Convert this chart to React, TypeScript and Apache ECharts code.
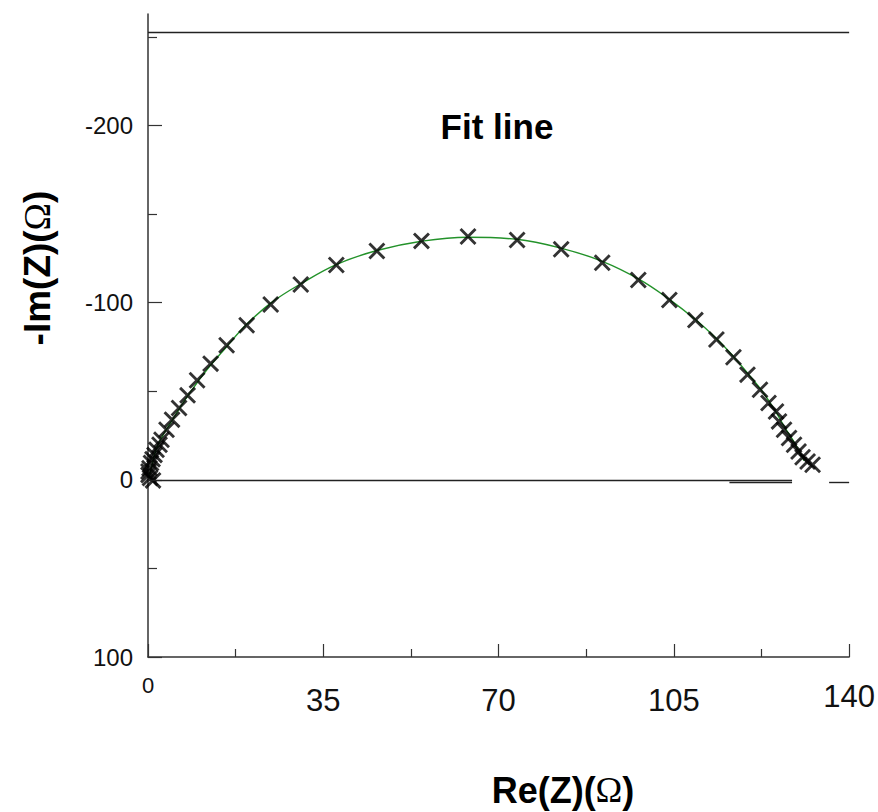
import React, { useEffect, useRef } from "react";
import * as echarts from "echarts";

// Measured impedance points (Re(Z), -Im(Z)) in ohms
const measRe = [1.0, 0.4, 0.1, 0.1, 0.3, 0.6, 0.9, 1.3, 1.7, 2.3, 2.7, 3.7, 4.8, 6.2, 7.9, 9.8, 12.5, 15.7, 19.7, 24.5, 30.5, 37.6, 45.7, 54.6, 63.9, 73.7, 82.5, 90.7, 97.9, 104.1, 109.3, 113.5, 116.9, 119.7, 122.2, 123.9, 125.4, 126.0, 127.0, 128.0, 129.0, 129.9, 130.7, 131.7, 132.7];
const measIm = [-0.3, 1.1, 2.8, 4.7, 6.6, 9.5, 11.7, 14.1, 17.0, 19.8, 22.6, 28.3, 34.0, 40.6, 47.7, 56.2, 65.6, 76.0, 87.3, 99.0, 110.3, 121.3, 129.2, 134.9, 137.4, 135.4, 130.2, 122.6, 112.8, 101.5, 90.2, 79.2, 69.2, 59.4, 50.9, 43.4, 38.6, 33.0, 28.3, 23.6, 19.8, 16.0, 12.8, 10.4, 8.5];

// Fit line
const fitRe = [0.2, 0.8, 1.6, 2.8, 4.4, 6.4, 8.8, 11.8, 15.4, 19.7, 24.7, 30.7, 37.7, 45.9, 54.6, 63.8, 73.6, 82.6, 90.7, 98.1, 104.1, 109.3, 113.5, 117.1, 120.1, 122.7, 125.1, 127.2, 129.2, 131.0];
const fitIm = [1.1, 8.5, 17.0, 24.3, 31.7, 40.8, 50.9, 62.3, 74.2, 87.8, 100.2, 111.0, 121.7, 129.6, 134.7, 137.0, 135.8, 130.7, 123.4, 113.2, 101.9, 90.5, 79.8, 69.0, 58.9, 49.8, 39.6, 29.4, 20.4, 10.8];

const xTicks = [0, 35, 70, 105, 140];
const yMajorTicks = [-100, 0, 100, 200];
const yMinorTicks = [-50, 50, 150, 250];
const frameTop = 252.6;

const CROSS = "path://M0,2.4L2.4,0L10,7.6L17.6,0L20,2.4L12.4,10L20,17.6L17.6,20L10,12.4L2.4,20L0,17.6L7.6,10Z";

export default function App() {
  const ref = useRef<HTMLDivElement>(null);
  useEffect(() => {
    const chart = echarts.init(ref.current!, null, { renderer: "svg" });
    const font = "Liberation Sans";
    const axisColor = "#333";
    const lineStyle = { color: axisColor, width: 1.5 };
    chart.setOption({
      animation: false,
      backgroundColor: "#fff",
      textStyle: { fontFamily: font },
      grid: { left: 148, right: 28, top: 14, bottom: 155, containLabel: false },
      xAxis: {
        type: "value",
        min: xTicks[0],
        max: xTicks[xTicks.length - 1],
        interval: 35,
        axisLine: { show: true, onZero: false, lineStyle },
        axisTick: { show: true, inside: true, length: 13, lineStyle: { color: axisColor, width: 1.2 } },
        minorTick: { show: true, splitNumber: 2, length: 8, lineStyle: { color: axisColor, width: 1.2 } },
        splitLine: { show: false },
        minorSplitLine: { show: false },
        axisLabel: {
          margin: 17,
          color: "#111",
          fontFamily: font,
          formatter: (v: number) => (v === 0 ? `{z|0}` : v === 140 ? `{e|140}` : `{m|${v}}`),
          rich: {
            z: { fontSize: 22, lineHeight: 22, fontFamily: font, color: "#111" },
            m: { fontSize: 31, lineHeight: 31, padding: [22, 0, 0, 0], fontFamily: font, color: "#111" },
            e: { fontSize: 31, lineHeight: 31, padding: [13, 0, 0, 0], fontFamily: font, color: "#111" },
          },
        },
      },
      yAxis: [
        {
          type: "value",
          min: -100,
          max: 263,
          position: "left",
          axisLine: { show: true, onZero: false, lineStyle },
          axisTick: { show: true, inside: true, length: 14, customValues: yMajorTicks, lineStyle: { color: axisColor, width: 1.2 } },
          axisLabel: {
            customValues: yMajorTicks,
            formatter: (v: number) => (v === 0 ? "0" : String(-v)),
            fontSize: 24,
            color: "#111",
            fontFamily: font,
            margin: 15,
          },
          splitLine: { show: false },
        },
        {
          type: "value",
          min: -100,
          max: 263,
          position: "left",
          axisLine: { show: false },
          axisTick: { show: true, inside: true, length: 9, customValues: yMinorTicks, lineStyle: { color: axisColor, width: 1.2 } },
          axisLabel: { show: false },
          splitLine: { show: false },
        },
      ],
      graphic: [
        {
          type: "text",
          x: 497,
          y: 126,
          style: { text: "Fit line", fontSize: 35, fontWeight: "bold", fontFamily: font, fill: "#000", align: "center", verticalAlign: "middle" },
        },
        {
          type: "text",
          x: 563,
          y: 790,
          style: {
            text: "Re(Z)({o|Ω})",
            fontSize: 36,
            fontWeight: "bold",
            fontFamily: font,
            fill: "#000",
            align: "center",
            verticalAlign: "middle",
            rich: { o: { fontSize: 36, fontFamily: "Liberation Serif", fontWeight: "normal", fill: "#000" } },
          },
        },
        {
          type: "text",
          x: 37,
          y: 268,
          rotation: Math.PI / 2,
          style: {
            text: "-Im(Z)({o|Ω})",
            fontSize: 37,
            fontWeight: "bold",
            fontFamily: font,
            fill: "#000",
            align: "center",
            verticalAlign: "middle",
            rich: { o: { fontSize: 37, fontFamily: "Liberation Serif", fontWeight: "normal", fill: "#000" } },
          },
        },
      ],
      series: [
        {
          name: "Fit",
          type: "line",
          data: fitRe.map((x, i) => [x, fitIm[i]]),
          showSymbol: false,
          smooth: 0.4,
          lineStyle: { color: "#23922a", width: 1.4 },
          z: 3,
          markLine: {
            silent: true,
            symbol: ["none", "none"],
            label: { show: false },
            lineStyle: { color: "#222", width: 1.4, type: "solid" },
            data: [
              [{ coord: [0, 0] }, { coord: [128.6, 0] }],
              [{ coord: [116.1, -1.5] }, { coord: [128.6, -1.5] }],
              [{ coord: [136.0, -1.5] }, { coord: [140, -1.5] }],
              [{ coord: [0, frameTop] }, { coord: [140, frameTop] }],
              [{ coord: [140.3, -100] }, { coord: [140.3, frameTop] }],
            ],
          },
        },
        {
          name: "Measured",
          type: "scatter",
          data: measRe.map((x, i) => [x, measIm[i]]),
          symbol: CROSS,
          symbolSize: 17,
          itemStyle: { color: "#000" },
          z: 4,
        },
      ],
    });
    return () => chart.dispose();
  }, []);
  return <div ref={ref} style={{ position: "absolute", left: 0, top: 0, width: 878, height: 812 }} />;
}
